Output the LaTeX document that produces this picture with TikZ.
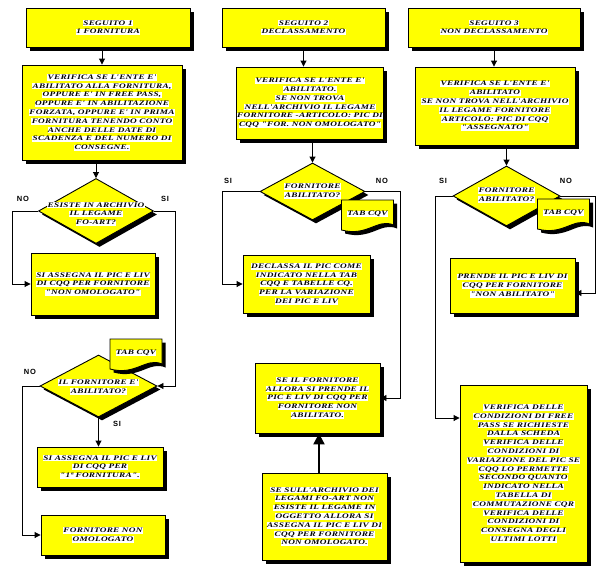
\documentclass[tikz,border=0pt]{standalone}
\usepackage{fontspec}
\setmainfont{Liberation Serif}
\newfontfamily\boxfont[FakeStretch=1.32,LetterSpace=4]{Liberation Serif}
\newfontfamily\lblfont[LetterSpace=12]{Liberation Sans}
\usetikzlibrary{shapes.geometric,shadows,arrows.meta,calc}
\definecolor{boxyellow}{RGB}{255,255,0}
\newcommand\hl[1]{{\setlength{\fboxsep}{0.4pt}\colorbox{white}{\rule[-0.9pt]{0pt}{5.6pt}#1}}}
\tikzset{
  shad/.style={drop shadow={shadow xshift=3.5pt,shadow yshift=-3.5pt,fill=black,opacity=1}},
  box/.style={draw=black,line width=0.9pt,fill=boxyellow,rectangle,inner sep=0pt,shad,
    align=center,font=\boxfont\bfseries\itshape\fontsize{7}{8.8}\selectfont},
  dia/.style={draw=black,line width=0.9pt,fill=boxyellow,diamond,inner sep=0pt,shad},
  txt/.style={align=center,inner sep=0pt,font=\boxfont\bfseries\itshape\fontsize{7}{8.8}\selectfont},
  conn/.style={line width=0.9pt,-{Triangle[length=6pt,width=6pt]}},
  thick conn/.style={line width=2.2pt,-{Triangle[length=11pt,width=11pt]}},
  lbl/.style={inner sep=0pt,font=\lblfont\bfseries\fontsize{7.5}{8}\selectfont}
}
\newcommand\tabcqv[2]{%
  \begin{scope}[shift={#1}]
    \fill[black,shift={(3.5,3.5)}] (-26,-15) -- (26,-15) -- (26,10) .. controls (10,3) and (0,22) .. (-26,15) -- cycle;
    \draw[fill=boxyellow,line width=0.9pt] (-26,-15) -- (26,-15) -- (26,10) .. controls (10,3) and (0,22) .. (-26,15) -- cycle;
    \node[txt] (#2) at (0,-1) {\hl{TAB CQV}};
  \end{scope}}
\begin{document}
\begin{tikzpicture}[x=1pt,y=-1pt]
\useasboundingbox[fill=white] (0,0) rectangle (605,570);
% ---------- column 1
\node[box,minimum width=164pt,minimum height=39pt] (s1) at (108,27.5) {\hl{SEGUITO 1}\\\hl{1 FORNITURA}};
\node[box,minimum width=160pt,minimum height=95pt] (v1) at (102,112.5) {\hl{VERIFICA SE L'ENTE E'}\\\hl{ABILITATO ALLA FORNITURA,}\\\hl{OPPURE E' IN FREE PASS,}\\\hl{OPPURE E' IN ABILITAZIONE}\\\hl{FORZATA, OPPURE E' IN PRIMA}\\\hl{FORNITURA TENENDO CONTO}\\\hl{ANCHE DELLE DATE DI}\\\hl{SCADENZA E DEL NUMERO DI}\\\hl{CONSEGNE.}};
\node[dia,minimum width=115pt,minimum height=65pt] (d1) at (96,211) {};
\node[txt] (d1t) at (96,214) {\hl{ESISTE IN ARCHIVIO}\\\hl{IL LEGAME}\\\hl{FO-ART?}};
\node[box,minimum width=124pt,minimum height=62pt] (a1) at (93,284) {\hl{SI ASSEGNA IL PIC E LIV}\\\hl{DI CQQ PER FORNITORE}\\\hl{"NON OMOLOGATO"}};
\node[dia,minimum width=117pt,minimum height=62pt] (d2) at (98.5,386) {};
\node[txt] (d2t) at (98.5,387) {\hl{IL FORNITORE E'}\\\hl{ABILITATO?}};
\tabcqv{(136,354)}{t1}
\node[box,minimum width=126pt,minimum height=40pt] (a2) at (100,467) {\hl{SI ASSEGNA IL PIC E LIV}\\\hl{DI CQQ PER}\\\hl{"1ª FORNITURA".}};
\node[box,minimum width=124pt,minimum height=40pt] (a3) at (103,535) {\hl{FORNITORE NON}\\\hl{OMOLOGATO}};
\coordinate (k0) at (12,0);
\coordinate (k1) at (175,0);
\coordinate (k2) at (22,0);
\draw[conn] (s1.south -| v1.north) -- (v1.north);
\draw[conn] (v1.south -| d1.north) -- (d1.north);
\draw[conn] (d1.west) -| (k0 |- a1.west) -- (a1.west);
\draw[conn] (d1.east) -| (k1 |- d2.east) -- (d2.east);
\draw[conn] (d2.west) -| (k2 |- a3.west) -- (a3.west);
\draw[conn] (d2.south) -- (d2.south |- a2.north);
\node[lbl] (n1) at (23,199) {NO};
\node[lbl] (y1) at (165,199) {SI};
\node[lbl] (n2) at (30,372) {NO};
\node[lbl] (y2) at (117,424) {SI};
% ---------- column 2
\node[box,minimum width=163pt,minimum height=39pt] (s2) at (303.5,27.5) {\hl{SEGUITO 2}\\\hl{DECLASSAMENTO}};
\node[box,minimum width=144pt,minimum height=72pt] (v2) at (310,103) {\hl{VERIFICA SE L'ENTE E'}\\\hl{ABILITATO.}\\\hl{SE NON TROVA}\\\hl{NELL'ARCHIVIO IL LEGAME}\\\hl{FORNITORE -ARTICOLO: PIC DI}\\\hl{CQQ "FOR. NON OMOLOGATO"}};
\node[dia,minimum width=105pt,minimum height=57pt] (d3) at (312.5,191.5) {};
\node[txt] (d3t) at (312.5,191) {\hl{FORNITORE}\\\hl{ABILITATO?}};
\tabcqv{(367.5,215)}{t2}
\node[box,minimum width=127pt,minimum height=58pt] (b2) at (306.5,284) {\hl{DECLASSA IL PIC COME}\\\hl{INDICATO NELLA TAB}\\\hl{CQQ E TABELLE CQ.}\\\hl{PER LA VARIAZIONE}\\\hl{DEI PIC E LIV}};
\node[box,minimum width=125pt,minimum height=70pt] (c2) at (317.5,398) {\hl{SE IL FORNITORE}\\\hl{ALLORA SI PRENDE IL}\\\hl{PIC E LIV DI CQQ PER}\\\hl{FORNITORE NON}\\\hl{ABILITATO.}};
\node[box,minimum width=125pt,minimum height=87pt] (e2) at (324.5,516.5) {\hl{SE SULL'ARCHIVIO DEI}\\\hl{LEGAMI FO-ART NON}\\\hl{ESISTE IL LEGAME IN}\\\hl{OGGETTO ALLORA SI}\\\hl{ASSEGNA IL PIC E LIV DI}\\\hl{CQQ PER FORNITORE}\\\hl{NON OMOLOGATO.}};
\coordinate (k3) at (222,0);
\coordinate (k4) at (400,0);
\coordinate (k5) at (319,0);
\draw[conn] (s2.south) -- (s2.south |- v2.north);
\draw[conn] (v2.south -| d3.north) -- (d3.north);
\draw[conn] (d3.west) -| (k3 |- b2.west) -- (b2.west);
\draw[conn] (d3.east) -| (k4 |- c2.east) -- (c2.east);
\draw[thick conn] (e2.north -| k5) -- (c2.south -| k5);
\node[lbl] (y3) at (228,181) {SI};
\node[lbl] (n3) at (382,181) {NO};
% ---------- column 3
\node[box,minimum width=172pt,minimum height=39pt] (s3) at (494,27.5) {\hl{SEGUITO 3}\\\hl{NON DECLASSAMENTO}};
\node[box,minimum width=160pt,minimum height=78pt] (v3) at (495,106) {\hl{VERIFICA SE L'ENTE E'}\\\hl{ABILITATO}\\\hl{SE NON TROVA NELL'ARCHIVIO}\\\hl{IL LEGAME FORNITORE}\\\hl{ARTICOLO: PIC DI CQQ}\\\hl{"ASSEGNATO"}};
\node[dia,minimum width=107pt,minimum height=60pt] (d4) at (506.5,196) {};
\node[txt] (d4t) at (506.5,195) {\hl{FORNITORE}\\\hl{ABILITATO?}};
\tabcqv{(563.5,214)}{t3}
\node[box,minimum width=125pt,minimum height=55pt] (b3) at (512.5,285.5) {\hl{PRENDE IL PIC E LIV DI}\\\hl{CQQ PER FORNITORE}\\\hl{"NON ABILITATO"}};
\node[box,minimum width=127pt,minimum height=177pt] (c3) at (523.5,473.5) {\hl{VERIFICA DELLE}\\\hl{CONDIZIONI DI FREE}\\\hl{PASS SE RICHIESTE}\\\hl{DALLA SCHEDA}\\\hl{VERIFICA DELLE}\\\hl{CONDIZIONI DI}\\\hl{VARIAZIONE DEL PIC SE}\\\hl{CQQ LO PERMETTE}\\\hl{SECONDO QUANTO}\\\hl{INDICATO NELLA}\\\hl{TABELLA DI}\\\hl{COMMUTAZIONE CQR}\\\hl{VERIFICA DELLE}\\\hl{CONDIZIONI DI}\\\hl{CONSEGNA DEGLI}\\\hl{ULTIMI LOTTI}};
\coordinate (k6) at (435,418);
\coordinate (k7) at (595,293);
\draw[conn] (s3.south) -- (s3.south |- v3.north);
\draw[conn] (v3.south -| d4.north) -- (d4.north);
\draw[conn] (d4.west) -| (k6) -- (c3.west |- k6);
\draw[conn] (d4.east) -| (k7) -- (b3.east |- k7);
\node[lbl] (y4) at (443,181) {SI};
\node[lbl] (n4) at (566,181) {NO};
\end{tikzpicture}
\end{document}
